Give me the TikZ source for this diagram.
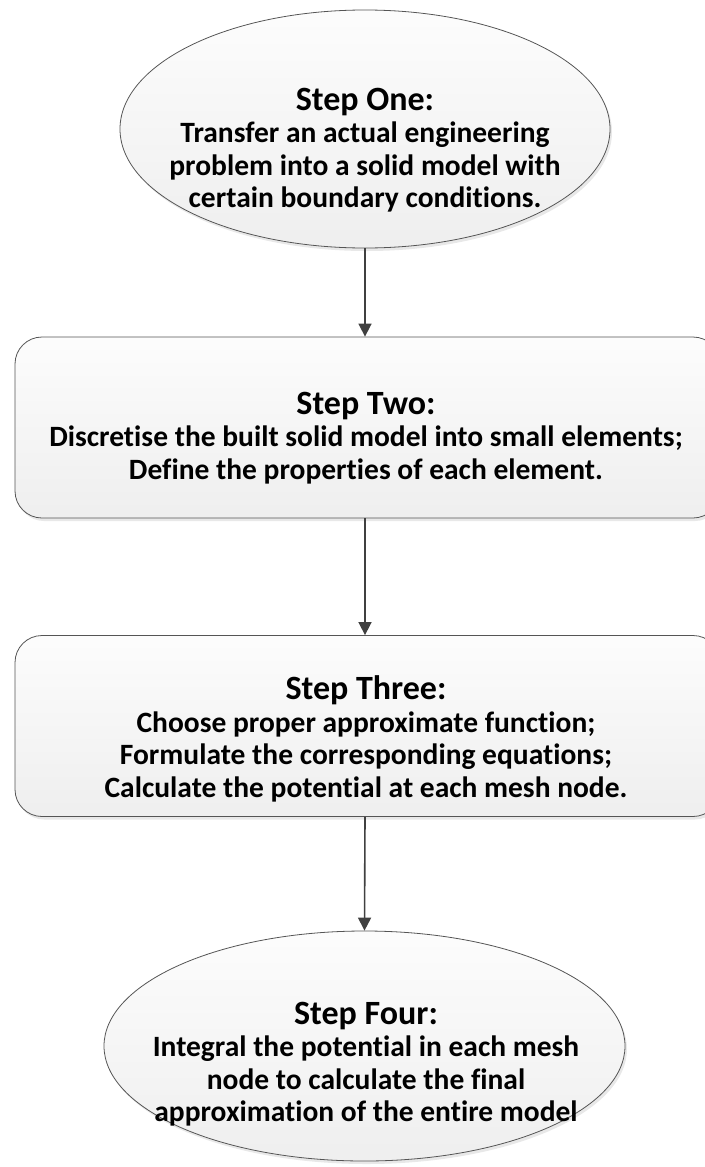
\documentclass[tikz,border=0pt]{standalone}
\usepackage{fontspec}
\setmainfont{Carlito}[Ligatures=NoCommon]
\usetikzlibrary{arrows.meta}
\usetikzlibrary{shapes.geometric}
\usetikzlibrary{shadows}
\usetikzlibrary{positioning}

\definecolor{edgegray}{HTML}{555555}
\definecolor{arrowgray}{HTML}{404040}

\begin{document}
\begin{tikzpicture}[
    x=1pt, y=1pt,
    arrowtip/.style={
      -{Triangle[width=13pt,length=13pt]}, draw=arrowgray, line width=1.6pt
    },
    stepshape/.style={
      draw=edgegray, line width=0.8pt, top color=gray!2, bottom color=gray!13,
      drop shadow={shadow xshift=2pt, shadow yshift=-3pt, opacity=0.18}
    },
    ovalbox/.style={stepshape, ellipse, inner sep=0pt},
    roundbox/.style={stepshape, rectangle, rounded corners=27pt, inner sep=0pt,
      minimum width=705pt, minimum height=181pt},
    steptext/.style={align=center, font=\bfseries\fontsize{29.5}{32.5}\selectfont}
  ]
    \useasboundingbox (0,0) rectangle (704,-1167);

    \coordinate (AA) at (365,-129);
    \coordinate (BB) at (367.5,-427.5);
    \coordinate (CC) at (367.5,-726);
    \coordinate (DD) at (364.5,-1046);

    \node[ovalbox, minimum width=490pt, minimum height=238pt] (AAS) at (AA) {};
    \node[steptext] (AAT) at (365,-150) {{\fontsize{34}{32.5}\selectfont Step One:}\\
      Transfer an actual engineering\\
      problem into a solid model with\\
      certain boundary conditions.};

    \node[roundbox] (BBS) at (BB) {};
    \node[steptext] (BBT) at (366,-438) {{\fontsize{34}{32.5}\selectfont Step Two:}\\
      Discretise the built solid model into small elements;\\
      Define the properties of each element.};

    \node[roundbox] (CCS) at (CC) {};
    \node[steptext] (CCT) at (366,-739) {{\fontsize{34}{32.5}\selectfont Step Three:}\\
      Choose proper approximate function;\\
      Formulate the corresponding equations;\\
      Calculate the potential at each mesh node.};

    \node[ovalbox, minimum width=521pt, minimum height=230pt] (DDS) at (DD) {};
    \node[steptext] (DDT) at (366,-1064) {{\fontsize{34}{32.5}\selectfont Step Four:}\\
      Integral the potential in each mesh\\
      node to calculate the final\\
      approximation of the entire model};

    \draw[arrowtip] (AAS.south) -- (AAS.south |- BBS.north);
    \draw[arrowtip] (AAS.south |- BBS.south) -- (AAS.south |- CCS.north);
    \draw[arrowtip] (AAS.south |- CCS.south) -- (DDS.north);
\end{tikzpicture}
\end{document}
